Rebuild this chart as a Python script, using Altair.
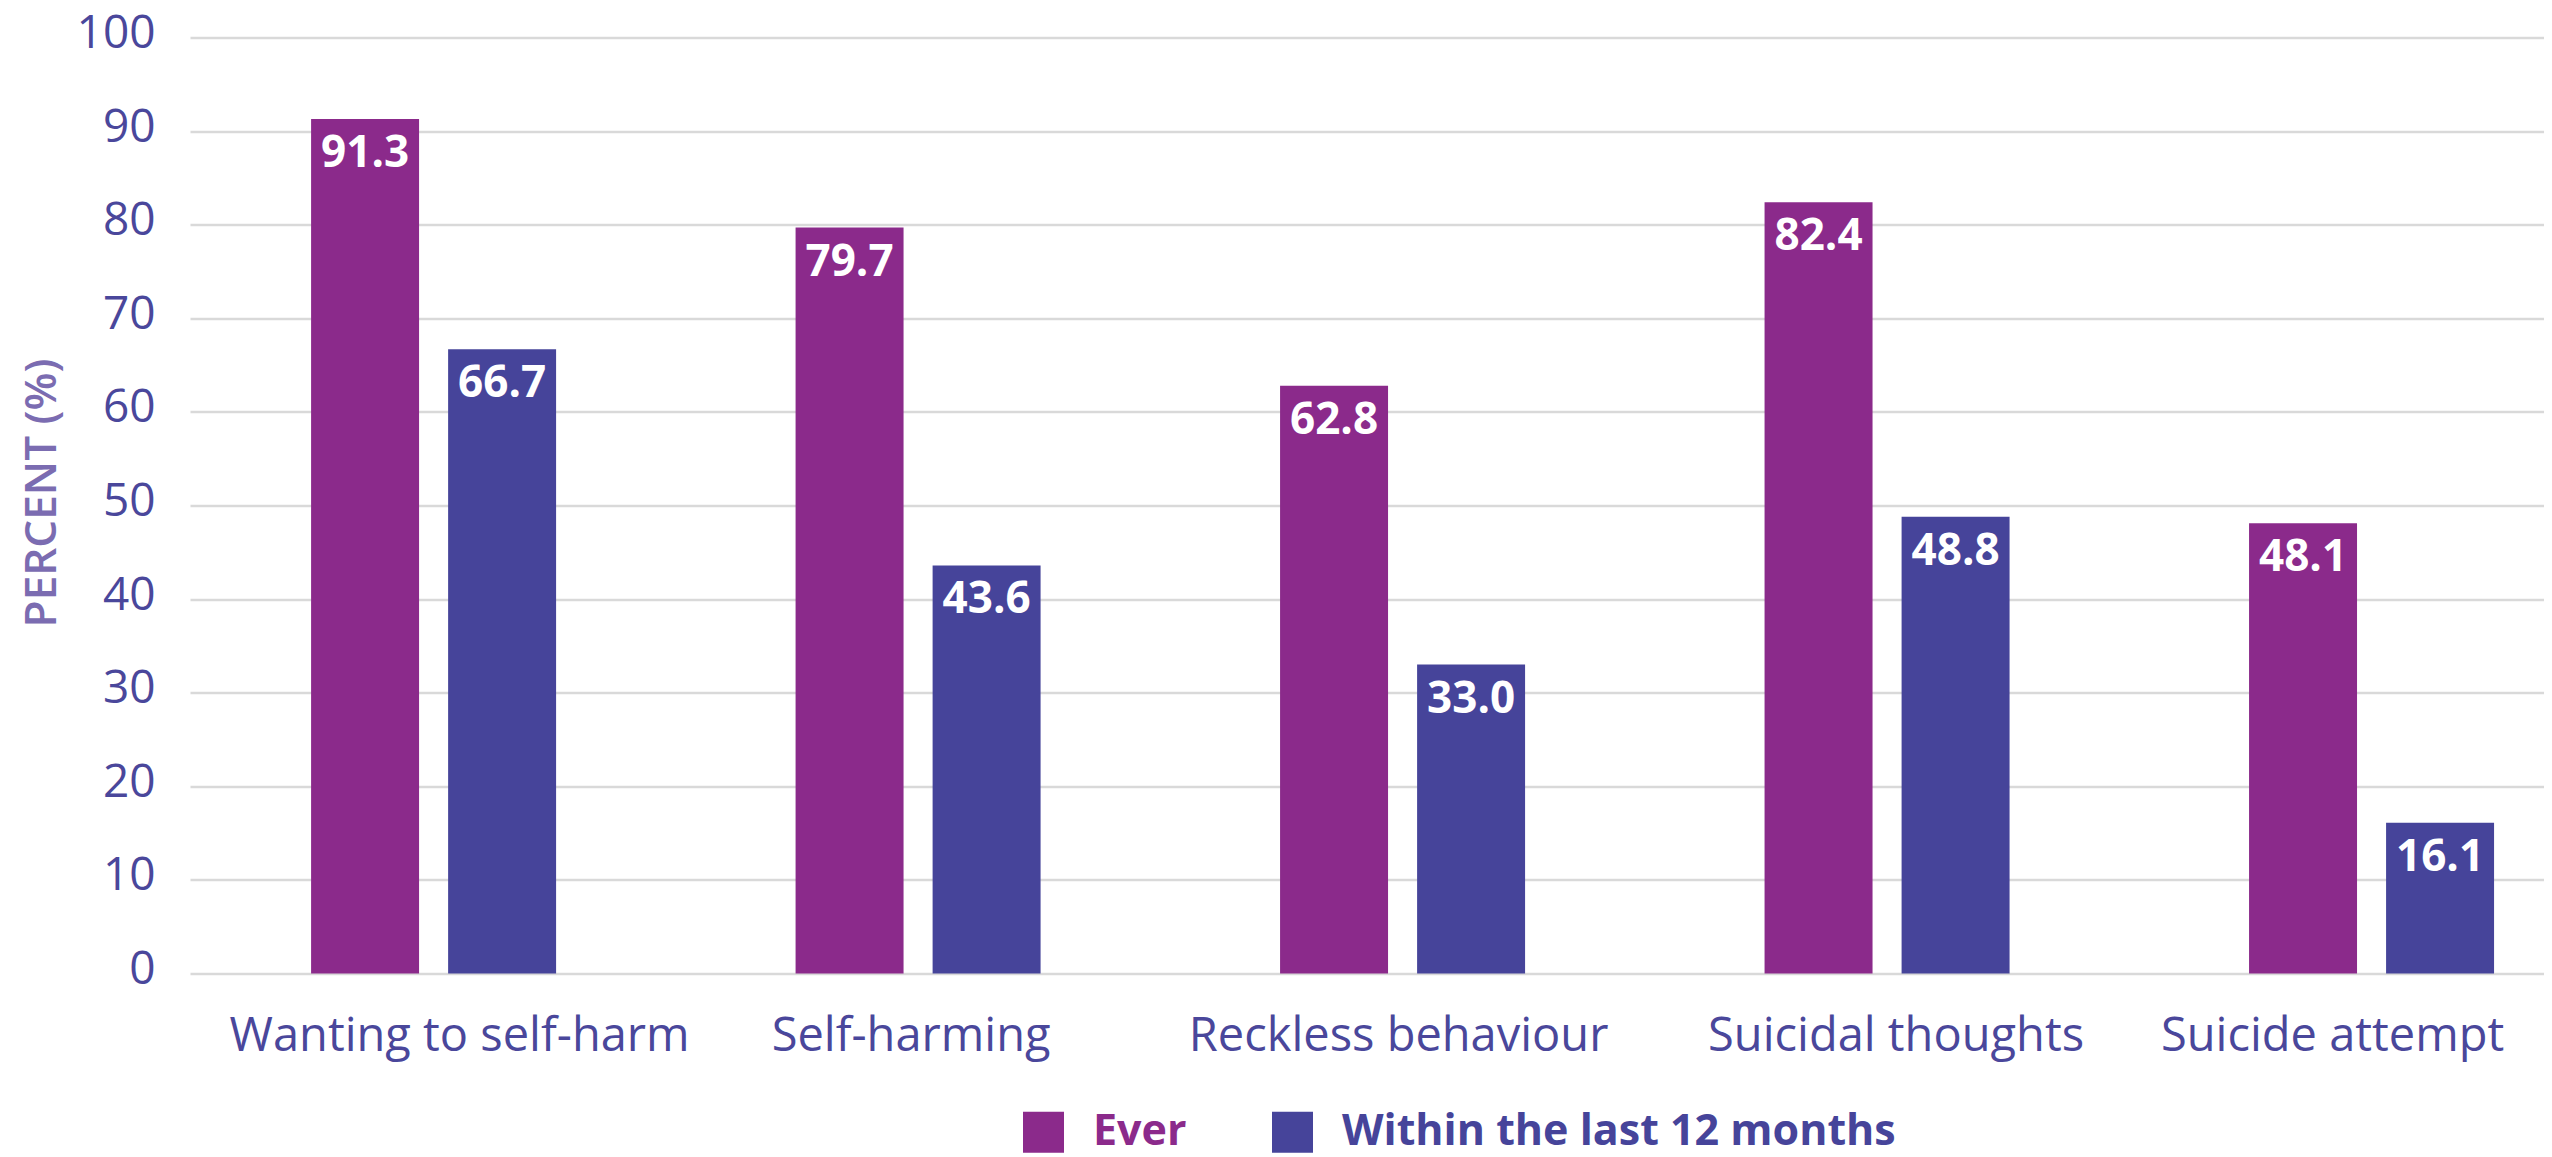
import altair as alt
import pandas as pd

# ---- data ----
categories = ["Wanting to self-harm", "Self-harming", "Reckless behaviour",
              "Suicidal thoughts", "Suicide attempt"]
series = ["Ever", "Within the last 12 months"]
ever = [91.3, 79.7, 62.8, 82.4, 48.1]
within_12m = [66.7, 43.6, 33.0, 48.8, 16.1]
y_ticks = [0, 10, 20, 30, 40, 50, 60, 70, 80, 90, 100]

# ---- styles ----
colors = ["#8B2A8B", "#46449A"]
axis_color = "#4A479B"
title_color = "#7B6CB1"
grid_color = "#D9D9D9"
font = "Open Sans"
# small per-label horizontal nudges of the category labels (pixels)
label_nudge = [26, -7, -4, 9, -39]

rows = []
for c, e, w in zip(categories, ever, within_12m):
    rows.append({"category": c, "series": series[0], "value": e})
    rows.append({"category": c, "series": series[1], "value": w})
df = pd.DataFrame(rows)

offset_expr = ""
for c, n in zip(categories[:-1], label_nudge[:-1]):
    offset_expr += f"datum.value === '{c}' ? {n} : "
offset_expr += str(label_nudge[-1])

x_enc = alt.X(
    "category:N", sort=categories, title=None,
    scale=alt.Scale(paddingInner=0.4943, paddingOuter=0.1765, align=0.708),
    axis=alt.Axis(labelAngle=0, labelFont=font, labelFontSize=47,
                  labelColor=axis_color, labelPadding=40, ticks=False,
                  domain=False, grid=False, labelOverlap=False, labelLimit=0,
                  labelOffset=alt.ExprRef(expr=offset_expr)),
)
xo_enc = alt.XOffset("series:N", sort=series,
                     scale=alt.Scale(paddingInner=0.212, paddingOuter=0))
y_enc = alt.Y(
    "value:Q", scale=alt.Scale(domain=[0, 100], nice=False),
    axis=alt.Axis(values=y_ticks, title="PERCENT (%)", grid=True,
                  domain=False, ticks=False, labelFont=font, labelFontSize=46,
                  labelColor=axis_color, labelPadding=35, labelOffset=-4,
                  titleFont=font, titleFontSize=44, titleFontWeight=600,
                  titleColor=title_color, titleX=-148, titleY=455,
                  titleAngle=270, titleAlign="center", titleBaseline="middle"),
)

bars = alt.Chart(df).mark_bar().encode(
    x=x_enc, xOffset=xo_enc, y=y_enc,
    color=alt.Color(
        "series:N", sort=series,
        scale=alt.Scale(domain=series, range=colors),
        legend=alt.Legend(
            title=None, orient="none", legendX=832, legendY=1073,
            direction="horizontal", symbolType="square", symbolSize=1681,
            symbolStrokeWidth=0, labelFont=font, labelFontSize=43,
            labelFontWeight="bold", labelOffset=28, columnPadding=84,
            padding=0, labelLimit=0,
            labelColor=alt.ExprRef(
                expr=f"datum.value === '{series[0]}' ? '{colors[0]}' : '{colors[1]}'"),
        ),
    ),
)

labels = alt.Chart(df).mark_text(
    font=font, fontWeight="bold", fontSize=44, color="white",
    baseline="alphabetic", dy=48,
).encode(
    x=alt.X("category:N", sort=categories),
    xOffset=alt.XOffset("series:N", sort=series),
    y=alt.Y("value:Q"),
    text=alt.Text("value:Q", format=".1f"),
)

chart = alt.layer(bars, labels).properties(
    width=2354, height=936,
    autosize=alt.AutoSizeParams(type="none"),
    padding={"left": 182, "top": 29.5, "right": 0, "bottom": 183.5},
).configure_view(stroke=None).configure_axis(
    gridColor=grid_color, gridWidth=2.5
)

chart.save("out.html", embed_options={"renderer": "svg", "actions": False})
